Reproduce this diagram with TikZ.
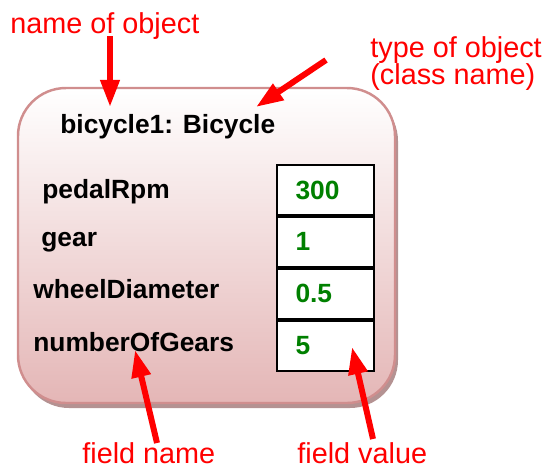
\documentclass[tikz,border=0pt]{standalone}
\usepackage{fontspec}
\setmainfont{Liberation Sans}
\usetikzlibrary{arrows.meta,positioning}
\definecolor{boxpink}{RGB}{228,182,182}
\definecolor{boxedge}{RGB}{208,142,142}
\definecolor{boxshadow}{RGB}{180,146,146}
\definecolor{valgreen}{RGB}{0,128,0}
\tikzset{
    note/.style={text=red, font=\fontsize{16.4}{15.3}\selectfont, inner sep=0pt},
    field/.style={font=\fontsize{15}{18}\selectfont\bfseries, inner sep=0pt, anchor=base west},
    cell/.style={draw, fill=white, line width=1.1pt, minimum width=1.94cm, minimum height=1cm,
        text width=1.2cm, inner xsep=0.37cm, inner ysep=0pt, align=left, text=valgreen,
        font=\fontsize{15}{18}\selectfont\bfseries},
    pointer/.style={red, line width=3.4pt, -{Triangle[length=15.5pt,width=10.5pt]}}
}

\begin{document}
\begin{tikzpicture}[x=0.02cm, y=-0.02cm]
    \useasboundingbox (0,0) rectangle (545,468);
    % The object box with its shadow.
        \fill[boxshadow, rounded corners=0.96cm] (21,93) rectangle (398,408);
        \draw[boxedge, line width=1.4pt, top color=white, bottom color=boxpink, rounded corners=0.96cm] (18,88) rectangle (395,403);
    % Title and field names.
        \node[field] (title) at (60,133) {bicycle1: Bicycle};
        \node[field] (fpedal) at (42,198) {pedalRpm};
        \node[field] (fgear) at (41,246) {gear};
        \node[field] (fwheel) at (33,298) {wheelDiameter};
        \node[field] (fgears) at (33,351) {numberOfGears};
    % Below nodes are the value cells.
        \node[cell] (v1) at (325.5,190) {300};
        \node[cell, below=0pt of v1] (v2) {1};
        \node[cell, below=0pt of v2] (v3) {0.5};
        \node[cell, below=0pt of v3] (v4) {5};
    % Red notes.
        \node[note, anchor=base west] (lname) at (10,33) {name of object};
        \node[note, anchor=base west, align=left] (ltype) at (370,84) {type of object\\(class name)};
        \node[note, anchor=base west] (lfname) at (82,463) {field name};
        \node[note, anchor=base west] (lfvalue) at (297,463) {field value};
    % This draws the pointers.
        \coordinate (nameTail) at (110,36);
        \coordinate (nameTip) at (110,107);
        \coordinate (typeTail) at (326,60);
        \coordinate (typeTip) at (256,107);
        \coordinate (fnameTail) at (157,443);
        \coordinate (fnameTip) at (135,350);
        \coordinate (fvalueTail) at (373,439);
        \coordinate (fvalueTip) at (352,347);
        \draw[pointer] (nameTail) -- (nameTip);
        \draw[pointer] (typeTail) -- (typeTip);
        \draw[pointer] (fnameTail) -- (fnameTip);
        \draw[pointer] (fvalueTail) -- (fvalueTip);
\end{tikzpicture}
\end{document}
